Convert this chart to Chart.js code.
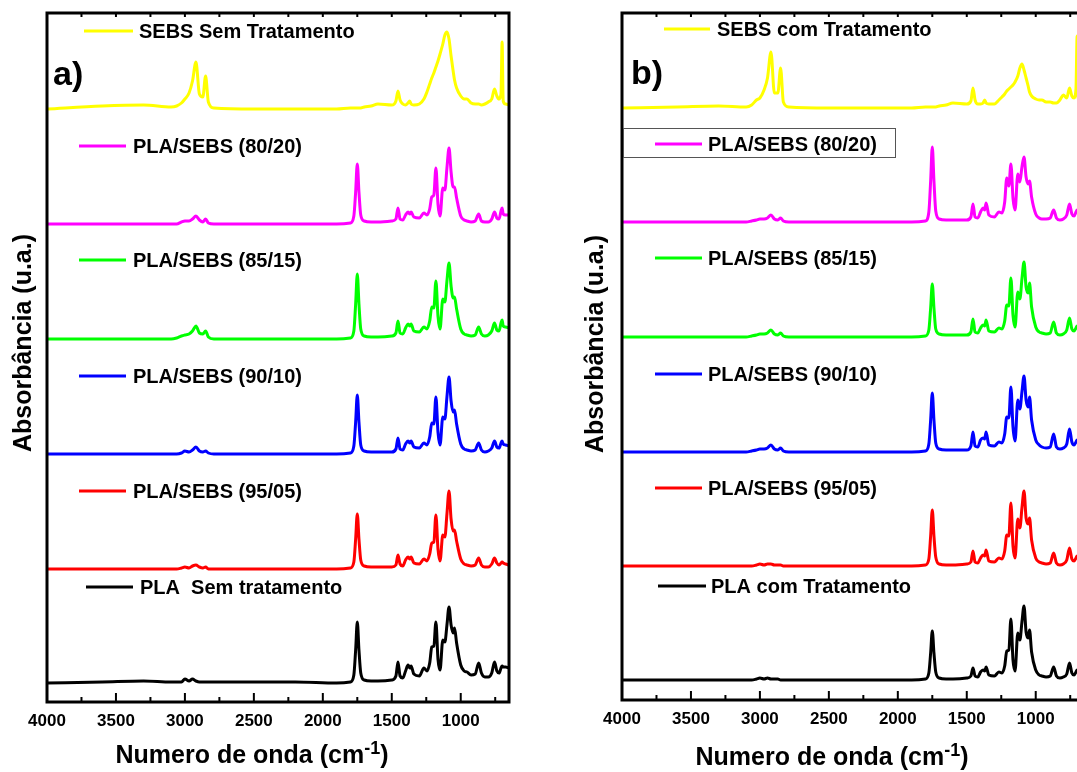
<!DOCTYPE html>
<html>
<head>
<meta charset="utf-8">
<title>FTIR PLA/SEBS</title>
<script src="https://cdn.jsdelivr.net/npm/chart.js@4.4.0/dist/chart.umd.min.js"></script>
<style>
  html, body { margin: 0; padding: 0; background: #fff; width: 1077px; height: 772px; overflow: hidden; }
  canvas { position: absolute; top: 0; }
  #chartA { left: 0; }
  #chartB { left: 540px; }
</style>
</head>
<body>
<canvas id="chartA" width="540" height="772"></canvas>
<canvas id="chartB" width="600" height="772"></canvas>
<script>
// Wavenumbers (cm-1) shared by every spectrum, high to low
const waveNumbers = [
  4000, 3600, 3300, 3100, 3060, 3025, 3000, 2970, 2945, 2920,
  2895, 2870, 2850, 2830, 2790, 2500, 2200, 1900, 1800, 1775,
  1762, 1750, 1738, 1725, 1700, 1650, 1600, 1500, 1470, 1455,
  1440, 1420, 1400, 1382, 1370, 1360, 1340, 1300, 1267, 1245,
  1225, 1210, 1195, 1180, 1165, 1150, 1130, 1115, 1100, 1085,
  1070, 1055, 1045, 1030, 1000, 975, 955, 925, 895, 870,
  850, 825, 800, 775, 755, 738, 722, 708, 700, 692,
  675, 650
];

const tickValues = [4000, 3500, 3000, 2500, 2000, 1500, 1000];

// a) samples without treatment (absorbance above each curve's own baseline)
const plaSem = [
  0, 0.01, 0.02, 0.01, 0.01, 0.01, 0.04, 0.02, 0.04, 0.02,
  0.01, 0.01, 0.01, 0.01, 0.01, 0.01, 0.01, 0, 0.01, 0.08,
  0.33, 0.61, 0.33, 0.1, 0.03, 0.02, 0.02, 0.03, 0.07, 0.21,
  0.07, 0.05, 0.12, 0.18, 0.15, 0.17, 0.09, 0.07, 0.15, 0.12,
  0.2, 0.36, 0.37, 0.61, 0.24, 0.13, 0.43, 0.41, 0.58, 0.76,
  0.58, 0.5, 0.55, 0.4, 0.18, 0.12, 0.11, 0.08, 0.09, 0.2,
  0.1, 0.06, 0.06, 0.1, 0.21, 0.12, 0.1, 0.15, 0.17, 0.16,
  0.16, 0.15
];
const pla95Sem = [
  0, 0, 0, 0, 0, 0.01, 0.02, 0.01, 0.03, 0.04,
  0.02, 0.01, 0.02, 0, 0, 0, 0, 0, 0.01, 0.07,
  0.3, 0.55, 0.3, 0.09, 0.03, 0.02, 0.02, 0.02, 0.04, 0.14,
  0.05, 0.03, 0.09, 0.12, 0.1, 0.12, 0.06, 0.05, 0.1, 0.08,
  0.15, 0.26, 0.27, 0.54, 0.2, 0.08, 0.34, 0.32, 0.55, 0.78,
  0.5, 0.38, 0.39, 0.28, 0.1, 0.05, 0.04, 0.03, 0.04, 0.11,
  0.04, 0.02, 0.02, 0.05, 0.11, 0.06, 0.04, 0.06, 0.07, 0.06,
  0.05, 0.04
];
const pla90Sem = [
  0, 0, 0, 0, 0, 0.01, 0.03, 0.02, 0.04, 0.07,
  0.03, 0.02, 0.03, 0.01, 0, 0, 0, 0, 0.01, 0.08,
  0.32, 0.59, 0.32, 0.09, 0.03, 0.02, 0.02, 0.02, 0.05, 0.16,
  0.05, 0.04, 0.1, 0.13, 0.11, 0.13, 0.07, 0.06, 0.11, 0.09,
  0.17, 0.31, 0.3, 0.57, 0.22, 0.09, 0.37, 0.35, 0.57, 0.77,
  0.53, 0.42, 0.44, 0.3, 0.1, 0.05, 0.04, 0.03, 0.04, 0.11,
  0.04, 0.02, 0.03, 0.06, 0.13, 0.07, 0.06, 0.11, 0.13, 0.1,
  0.09, 0.08
];
const pla85Sem = [
  0, 0, 0, 0, 0.01, 0.03, 0.04, 0.05, 0.08, 0.13,
  0.06, 0.05, 0.08, 0.02, 0, 0, 0, 0, 0.01, 0.08,
  0.35, 0.65, 0.35, 0.1, 0.03, 0.02, 0.02, 0.03, 0.06, 0.18,
  0.06, 0.05, 0.11, 0.15, 0.13, 0.15, 0.08, 0.07, 0.12, 0.1,
  0.18, 0.32, 0.31, 0.58, 0.23, 0.1, 0.4, 0.37, 0.58, 0.76,
  0.53, 0.41, 0.42, 0.3, 0.1, 0.05, 0.04, 0.03, 0.04, 0.12,
  0.05, 0.03, 0.04, 0.08, 0.16, 0.09, 0.08, 0.16, 0.19, 0.13,
  0.12, 0.11
];
const pla80Sem = [
  0, 0, 0, 0, 0, 0.02, 0.03, 0.03, 0.05, 0.08,
  0.04, 0.02, 0.05, 0.01, 0, 0, 0, 0, 0.01, 0.08,
  0.32, 0.6, 0.32, 0.09, 0.03, 0.02, 0.02, 0.03, 0.05, 0.16,
  0.05, 0.04, 0.09, 0.12, 0.1, 0.12, 0.07, 0.06, 0.11, 0.09,
  0.15, 0.27, 0.29, 0.56, 0.2, 0.08, 0.36, 0.34, 0.56, 0.76,
  0.52, 0.37, 0.37, 0.26, 0.08, 0.04, 0.03, 0.02, 0.03, 0.1,
  0.03, 0.02, 0.02, 0.05, 0.12, 0.06, 0.05, 0.13, 0.16, 0.1,
  0.09, 0.09
];
const sebsSem = [
  0, 0.03, 0.04, 0.02, 0.03, 0.06, 0.1, 0.16, 0.28, 0.47,
  0.15, 0.12, 0.33, 0.07, 0.01, 0, 0, 0, 0.01, 0.01,
  0.01, 0.01, 0.01, 0.01, 0.02, 0.03, 0.05, 0.04, 0.08, 0.18,
  0.09, 0.05, 0.04, 0.06, 0.08, 0.05, 0.04, 0.05, 0.1, 0.17,
  0.25, 0.31, 0.36, 0.42, 0.48, 0.55, 0.65, 0.74, 0.77, 0.7,
  0.53, 0.38, 0.29, 0.21, 0.13, 0.1, 0.1, 0.06, 0.05, 0.05,
  0.04, 0.05, 0.07, 0.1, 0.2, 0.13, 0.1, 0.15, 0.67, 0.08,
  0.05, 0.04
];

// b) samples with treatment
const plaCom = [
  0, 0, 0, 0, 0, 0.01, 0.02, 0.01, 0.02, 0.01,
  0.01, 0.01, 0, 0, 0, 0, 0, 0, 0.01, 0.07,
  0.27, 0.49, 0.27, 0.08, 0.02, 0.01, 0.01, 0.02, 0.04, 0.12,
  0.04, 0.03, 0.08, 0.1, 0.09, 0.13, 0.05, 0.04, 0.08, 0.07,
  0.14, 0.29, 0.3, 0.61, 0.2, 0.09, 0.47, 0.4, 0.58, 0.74,
  0.48, 0.42, 0.5, 0.28, 0.1, 0.05, 0.04, 0.03, 0.04, 0.13,
  0.04, 0.02, 0.03, 0.06, 0.17, 0.07, 0.05, 0.08, 0.1, 0.08,
  0.07, 0.06
];
const pla95Com = [
  0, 0, 0, 0, 0, 0.01, 0.02, 0.01, 0.02, 0.02,
  0.01, 0.01, 0.01, 0, 0, 0, 0, 0, 0.01, 0.07,
  0.3, 0.56, 0.3, 0.09, 0.02, 0.01, 0.01, 0.02, 0.04, 0.15,
  0.04, 0.03, 0.08, 0.11, 0.1, 0.16, 0.05, 0.04, 0.08, 0.07,
  0.15, 0.31, 0.3, 0.63, 0.2, 0.08, 0.47, 0.38, 0.58, 0.75,
  0.48, 0.42, 0.48, 0.26, 0.08, 0.04, 0.03, 0.02, 0.03, 0.13,
  0.03, 0.01, 0.02, 0.06, 0.18, 0.07, 0.05, 0.08, 0.1, 0.08,
  0.07, 0.06
];
const pla90Com = [
  0, 0, 0, 0, 0.01, 0.02, 0.03, 0.03, 0.04, 0.07,
  0.03, 0.02, 0.04, 0.01, 0, 0, 0, 0, 0.01, 0.08,
  0.32, 0.59, 0.32, 0.09, 0.03, 0.02, 0.02, 0.02, 0.06, 0.2,
  0.06, 0.05, 0.12, 0.14, 0.13, 0.2, 0.07, 0.06, 0.1, 0.09,
  0.18, 0.35, 0.34, 0.65, 0.25, 0.11, 0.52, 0.43, 0.6, 0.76,
  0.52, 0.45, 0.55, 0.32, 0.12, 0.07, 0.05, 0.04, 0.05, 0.18,
  0.05, 0.03, 0.04, 0.08, 0.23, 0.1, 0.07, 0.1, 0.12, 0.1,
  0.09, 0.08
];
const pla85Com = [
  0, 0, 0, 0, 0.01, 0.02, 0.03, 0.03, 0.04, 0.07,
  0.03, 0.02, 0.04, 0.01, 0, 0, 0, 0, 0.01, 0.07,
  0.29, 0.53, 0.29, 0.08, 0.03, 0.02, 0.02, 0.02, 0.05, 0.18,
  0.05, 0.04, 0.09, 0.12, 0.11, 0.17, 0.06, 0.05, 0.09, 0.08,
  0.16, 0.32, 0.31, 0.59, 0.22, 0.1, 0.45, 0.38, 0.58, 0.75,
  0.5, 0.44, 0.54, 0.3, 0.1, 0.05, 0.04, 0.03, 0.04, 0.15,
  0.04, 0.02, 0.03, 0.07, 0.19, 0.08, 0.06, 0.09, 0.11, 0.09,
  0.08, 0.07
];
const pla80Com = [
  0, 0, 0, 0, 0.01, 0.02, 0.03, 0.03, 0.04, 0.07,
  0.03, 0.02, 0.04, 0.01, 0, 0, 0, 0, 0.01, 0.1,
  0.41, 0.75, 0.41, 0.11, 0.03, 0.02, 0.02, 0.02, 0.05, 0.18,
  0.05, 0.04, 0.1, 0.14, 0.12, 0.19, 0.07, 0.05, 0.1, 0.09,
  0.2, 0.44, 0.36, 0.58, 0.24, 0.12, 0.48, 0.4, 0.55, 0.65,
  0.45, 0.38, 0.41, 0.25, 0.08, 0.04, 0.03, 0.03, 0.04, 0.12,
  0.04, 0.02, 0.03, 0.07, 0.18, 0.08, 0.06, 0.1, 0.12, 0.1,
  0.08, 0.07
];
const sebsCom = [
  0, 0.01, 0.02, 0.01, 0.03, 0.08, 0.1, 0.18, 0.3, 0.56,
  0.15, 0.15, 0.4, 0.06, 0.01, 0, 0, 0, 0.01, 0.01,
  0.01, 0.01, 0.01, 0.01, 0.02, 0.03, 0.05, 0.04, 0.07, 0.2,
  0.08, 0.04, 0.04, 0.05, 0.08, 0.05, 0.04, 0.04, 0.08, 0.11,
  0.14, 0.17, 0.19, 0.21, 0.23, 0.26, 0.32, 0.4, 0.44, 0.38,
  0.3, 0.22, 0.16, 0.12, 0.09, 0.08, 0.08, 0.06, 0.06, 0.05,
  0.05, 0.08, 0.13, 0.1, 0.2, 0.12, 0.1, 0.2, 0.72, 0.1,
  0.05, 0.04
];

// vertical stacking offsets (a.u.), bottom curve first
const offsetsA = [0.19, 1.33, 2.48, 3.63, 4.78, 5.93];
const offsetsB = [0.20, 1.34, 2.48, 3.63, 4.78, 5.92];

const labelsA = ['PLA  Sem tratamento', 'PLA/SEBS (95/05)', 'PLA/SEBS (90/10)',
  'PLA/SEBS (85/15)', 'PLA/SEBS (80/20)', 'SEBS Sem Tratamento'];
const labelsB = ['PLA com Tratamento', 'PLA/SEBS (95/05)', 'PLA/SEBS (90/10)',
  'PLA/SEBS (85/15)', 'PLA/SEBS (80/20)', 'SEBS com Tratamento'];

const colors = ['#000000', '#ff0000', '#0000ff', '#00ff00', '#ff00ff', '#ffff00'];
const FONT = '"Liberation Sans", Arial, sans-serif';

// frame, inward ticks, legend rows and titles
function decorations(cfg) {
  return {
    id: 'decorations',
    afterDraw(chart) {
      const { ctx, chartArea: a } = chart;
      const x = chart.scales.x;
      ctx.save();

      ctx.strokeStyle = '#000';
      ctx.lineWidth = 2;
      for (let w = 3750; w >= 700; w -= 250) {
        const px = x.getPixelForValue(w);
        const major = w % 500 === 0;
        ctx.beginPath();
        ctx.moveTo(px, a.bottom);
        ctx.lineTo(px, a.bottom - (major ? 9 : 5));
        ctx.moveTo(px, a.top);
        ctx.lineTo(px, a.top + 4);
        ctx.stroke();
      }
      ctx.lineWidth = 3;
      ctx.strokeRect(a.left, a.top, a.right - a.left, a.bottom - a.top);

      if (cfg.box) {
        ctx.strokeStyle = '#555';
        ctx.lineWidth = 1;
        ctx.strokeRect(cfg.box[0] + 0.5, cfg.box[1] + 0.5, cfg.box[2], cfg.box[3]);
      }

      // legend entries sit above their own curves
      ctx.font = 'bold 20px ' + FONT;
      ctx.textBaseline = 'middle';
      ctx.textAlign = 'left';
      chart.data.datasets.forEach((ds, i) => {
        const row = cfg.legend[i];
        ctx.strokeStyle = ds.borderColor;
        ctx.lineWidth = 3;
        ctx.beginPath();
        ctx.moveTo(row.x0, row.y);
        ctx.lineTo(row.x1, row.y);
        ctx.stroke();
        ctx.fillStyle = '#000';
        ctx.fillText(ds.label, row.tx, row.y + 1);
      });

      // panel letter
      ctx.font = 'bold 34px ' + FONT;
      ctx.fillText(cfg.letter, cfg.letterX, cfg.letterY);

      // y title
      ctx.save();
      ctx.translate(cfg.yTitleX, cfg.yTitleY);
      ctx.rotate(-Math.PI / 2);
      ctx.textAlign = 'center';
      ctx.font = 'bold 25px ' + FONT;
      ctx.fillText('Absorbância (u.a.)', 0, 0);
      ctx.restore();

      // x title with superscript
      const main = 'Numero de onda (cm';
      ctx.textBaseline = 'alphabetic';
      ctx.font = 'bold 25px ' + FONT;
      const w1 = ctx.measureText(main).width;
      const w3 = ctx.measureText(')').width;
      ctx.font = 'bold 18px ' + FONT;
      const w2 = ctx.measureText('-1').width;
      let sx = cfg.xTitleX - (w1 + w2 + w3) / 2;
      ctx.font = 'bold 25px ' + FONT;
      ctx.fillText(main, sx, cfg.xTitleY);
      ctx.font = 'bold 18px ' + FONT;
      ctx.fillText('-1', sx + w1, cfg.xTitleY - 9);
      ctx.font = 'bold 25px ' + FONT;
      ctx.fillText(')', sx + w1 + w2, cfg.xTitleY);

      ctx.restore();
    }
  };
}

function makePanel(id, series, offsets, labels, cfg) {
  const datasets = series.map((vals, i) => ({
    label: labels[i],
    data: waveNumbers.map((w, j) => ({ x: w, y: offsets[i] + vals[j] })),
    borderColor: colors[i],
    borderWidth: 3,
    pointRadius: 0,
    fill: false,
    cubicInterpolationMode: 'monotone'
  }));
  return new Chart(document.getElementById(id), {
    type: 'line',
    data: { datasets },
    options: {
      responsive: false,
      animation: false,
      devicePixelRatio: 1,
      layout: { padding: cfg.padding },
      plugins: { legend: { display: false }, tooltip: { enabled: false } },
      scales: {
        x: {
          type: 'linear',
          reverse: true,
          min: 650,
          max: 4000,
          afterBuildTicks: s => { s.ticks = tickValues.map(v => ({ value: v })); },
          afterFit: s => { s.height = cfg.xHeight; },
          grid: { display: false, drawTicks: false },
          border: { display: false },
          ticks: {
            color: '#000',
            padding: 9,
            maxRotation: 0,
            autoSkip: false,
            callback: v => String(v),
            font: { family: FONT, size: 17, weight: 'bold' }
          }
        },
        y: { display: false, min: 0, max: cfg.yMax }
      }
    },
    plugins: [decorations(cfg)]
  });
}

makePanel('chartA', [plaSem, pla95Sem, pla90Sem, pla85Sem, pla80Sem, sebsSem], offsetsA, labelsA, {
  padding: { left: 47, right: 31, top: 13, bottom: 0 },
  xHeight: 70,
  yMax: 6.89,
  legend: [
    { y: 587, x0: 86, x1: 133, tx: 140 },
    { y: 491, x0: 79, x1: 126, tx: 133 },
    { y: 376, x0: 79, x1: 126, tx: 133 },
    { y: 260, x0: 79, x1: 126, tx: 133 },
    { y: 146, x0: 79, x1: 126, tx: 133 },
    { y: 31, x0: 84, x1: 133, tx: 139 }
  ],
  letter: 'a)', letterX: 53, letterY: 76,
  yTitleX: 24, yTitleY: 343,
  xTitleX: 252, xTitleY: 763
});

makePanel('chartB', [plaCom, pla95Com, pla90Com, pla85Com, pla80Com, sebsCom], offsetsB, labelsB, {
  padding: { left: 82, right: 56, top: 13, bottom: 0 },
  xHeight: 72,
  yMax: 6.87,
  box: [83, 128, 272, 29],
  legend: [
    { y: 586, x0: 118, x1: 166, tx: 171 },
    { y: 488, x0: 115, x1: 162, tx: 168 },
    { y: 374, x0: 115, x1: 162, tx: 168 },
    { y: 258, x0: 115, x1: 162, tx: 168 },
    { y: 144, x0: 115, x1: 162, tx: 168 },
    { y: 29, x0: 124, x1: 170, tx: 177 }
  ],
  letter: 'b)', letterX: 91, letterY: 75,
  yTitleX: 56, yTitleY: 344,
  xTitleX: 292, xTitleY: 765
});
</script>
</body>
</html>
